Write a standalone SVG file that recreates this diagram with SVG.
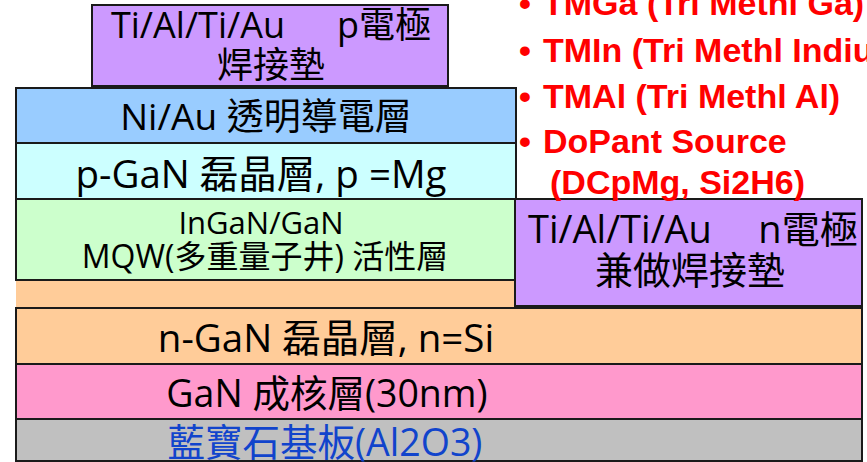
<svg xmlns="http://www.w3.org/2000/svg" width="867" height="462" viewBox="0 0 867 462">
<style>
.box{stroke:#1a1a1a;stroke-width:2}
.t{font-family:"Open Sans","Noto Sans CJK TC",sans-serif;fill:#000;text-anchor:middle}
.r{font-family:"Liberation Sans",Arial,sans-serif;font-weight:bold;fill:#ff0000;font-size:34px}
</style>
<rect width="867" height="462" fill="#ffffff"/>
<g id="orange-strip"><rect x="16" y="281" width="516" height="27" fill="#ffcc99"/></g>
<g id="p-electrode">
<rect class="box" x="92" y="5" width="356" height="81" fill="#cc99ff"/>
<text class="t" font-size="36"><tspan x="198" y="38">Ti/Al/Ti/Au</tspan><tspan x="384" y="38">p電極</tspan></text>
<text class="t" font-size="36" x="271" y="78">焊接墊</text>
</g>
<g id="niau">
<rect class="box" x="16" y="88" width="500" height="55" fill="#99ccff"/>
<text class="t" font-size="37" x="266" y="130">Ni/Au 透明導電層</text>
</g>
<g id="pgan">
<rect class="box" x="16" y="143" width="500" height="56" fill="#ccffff"/>
<text class="t" font-size="38.5" x="261" y="188">p-GaN 磊晶層, p =Mg</text>
</g>
<g id="mqw">
<rect class="box" x="16" y="199" width="500" height="81" fill="#ccffcc"/>
<text class="t" font-size="31" x="261" y="234">InGaN/GaN</text>
<text class="t" font-size="32" x="265" y="268">MQW(多重量子井) 活性層</text>
</g>
<g id="n-electrode">
<rect class="box" x="515" y="199" width="347" height="107" fill="#cc99ff"/>
<text class="t" font-size="38"><tspan x="620" y="243">Ti/Al/Ti/Au</tspan><tspan x="808" y="243">n電極</tspan></text>
<text class="t" font-size="38" x="690" y="284">兼做焊接墊</text>
</g>
<g id="ngan">
<rect class="box" x="16" y="308" width="846" height="56" fill="#ffcc99"/>
<text class="t" font-size="38.5" x="326" y="352">n-GaN 磊晶層, n=Si</text>
</g>
<g id="nucleation">
<rect class="box" x="16" y="364" width="846" height="55" fill="#ff99cc"/>
<text class="t" font-size="37.5" x="327" y="407">GaN 成核層(30nm)</text>
</g>
<g id="sapphire">
<rect class="box" x="16" y="419" width="846" height="42" fill="#c0c0c0"/>
<text class="t" font-size="37.5" x="325" y="456" style="fill:#1144cc">藍寶石基板(Al2O3)</text>
</g>
<g id="sources">
<text class="r" x="519" y="15">•</text><text class="r" x="543" y="15">TMGa (Tri Methl Ga)</text>
<text class="r" x="519" y="62">•</text><text class="r" x="543" y="62">TMIn (Tri Methl Indium)</text>
<text class="r" x="519" y="108">•</text><text class="r" x="543" y="108">TMAl (Tri Methl Al)</text>
<text class="r" x="519" y="153">•</text><text class="r" x="543" y="153">DoPant Source</text>
<text class="r" x="550" y="194">(DCpMg, Si2H6)</text>
</g>
<g id="connectors"></g>
</svg>
